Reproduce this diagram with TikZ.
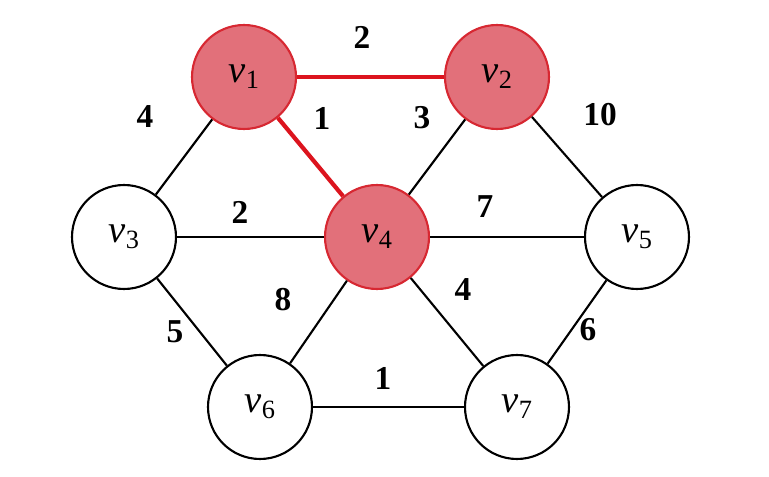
\documentclass[tikz,border=0pt]{standalone}
\usepackage{fontspec}
\setmainfont{Liberation Serif}
\newcommand{\vv}[1]{\textit{v}\raisebox{-0.35ex}{\fontsize{15}{18}\selectfont #1}}
\begin{document}
\begin{tikzpicture}[x=0.02cm,y=-0.02cm,
  vtx/.style={circle,draw=black,line width=1.2pt,minimum size=2.08cm,inner sep=0pt,fill=white,font=\fontsize{22}{26}\selectfont},
  sel/.style={vtx,fill={rgb,255:red,226;green,112;blue,122},draw={rgb,255:red,215;green,40;blue,50}},
  ed/.style={line width=1.2pt},
  red/.style={line width=2.4pt,draw={rgb,255:red,220;green,20;blue,30}},
  lab/.style={font=\fontsize{19}{22}\selectfont\bfseries}]
\useasboundingbox (0,0) rectangle (769,477);
\node[sel] (v1) at (244,77) {\vv1};
\node[sel] (v2) at (497,77) {\vv2};
\node[vtx] (v3) at (124,237) {\vv3};
\node[sel] (v4) at (377,237) {\vv4};
\node[vtx] (v5) at (637,237) {\vv5};
\node[vtx] (v6) at (260,407) {\vv6};
\node[vtx] (v7) at (517,407) {\vv7};
\draw[ed] (v1) -- (v3);
\draw[ed] (v2) -- (v4);
\draw[ed] (v2) -- (v5);
\draw[ed] (v3) -- (v4);
\draw[ed] (v4) -- (v5);
\draw[ed] (v3) -- (v6);
\draw[ed] (v4) -- (v6);
\draw[ed] (v4) -- (v7);
\draw[ed] (v5) -- (v7);
\draw[ed] (v6) -- (v7);
\draw[red] (v1) -- (v2);
\draw[red] (v1) -- (v4);
\node[lab] (l12) at (362,37) {2};
\node[lab] (l13) at (145,117) {4};
\node[lab] (l14) at (322,118) {1};
\node[lab] (l24) at (422,118) {3};
\node[lab] (l25) at (600,115) {10};
\node[lab] (l34) at (240,212) {2};
\node[lab] (l45) at (485,207) {7};
\node[lab] (l46) at (283,300) {8};
\node[lab] (l47) at (463,290) {4};
\node[lab] (l36) at (175,332) {5};
\node[lab] (l57) at (588,330) {6};
\node[lab] (l67) at (383,378) {1};
\end{tikzpicture}
\end{document}
